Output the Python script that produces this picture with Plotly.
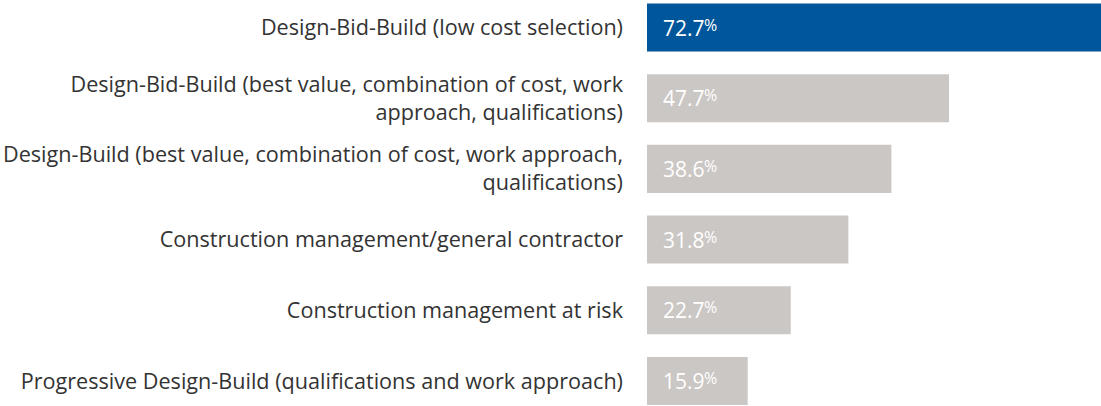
import plotly.graph_objects as go

categories = [
    "Design-Bid-Build (low cost selection)",
    "Design-Bid-Build (best value, combination of cost, work<br>approach, qualifications)",
    "Design-Build (best value, combination of cost, work approach,<br>qualifications)",
    "Construction management/general contractor",
    "Construction management at risk",
    "Progressive Design-Build (qualifications and work approach)",
]
values = [72.7, 47.7, 38.6, 31.8, 22.7, 15.9]
colors = ["#00569A", "#CBC7C4", "#CBC7C4", "#CBC7C4", "#CBC7C4", "#CBC7C4"]

ypos = list(range(len(categories)))
FONT = "Open Sans"
LABEL_SIZE = 21.6

fig = go.Figure(go.Bar(
    x=values, y=ypos, orientation="h", marker=dict(color=colors, line=dict(width=0)),
    width=0.68, hoverinfo="skip",
))

NUM_W = 41  # approximate pixel width of "00.0" at size 21
for i, v in enumerate(values):
    fig.add_annotation(
        x=0, y=i, xref="x", yref="y", xanchor="left", yanchor="middle",
        xshift=14, showarrow=False,
        text=f"{v:.1f}",
        font=dict(family=FONT, size=21, color="#FFFFFF"),
    )
    fig.add_annotation(
        x=0, y=i, xref="x", yref="y", xanchor="left", yanchor="middle",
        xshift=14 + NUM_W, yshift=3, showarrow=False,
        text="%",
        font=dict(family=FONT, size=16, color="#FFFFFF"),
    )

fig.update_layout(
    width=1101, height=406,
    margin=dict(l=647, r=0, t=0, b=0),
    paper_bgcolor="white", plot_bgcolor="white",
    showlegend=False,
    font=dict(family=FONT, size=19, color="#333333"),
    xaxis=dict(range=[0, 71.7], visible=False, fixedrange=True),
    yaxis=dict(
        range=[5.354, -0.389], tickmode="array", tickvals=ypos, ticktext=categories,
        showgrid=False, zeroline=False, showline=False, ticks="",
        ticklabelstandoff=23, fixedrange=True,
        tickfont=dict(family=FONT, size=LABEL_SIZE, color="#333333"),
    ),
)

fig.write_html("out.html", config={"displayModeBar": False},
               post_script="document.body.style.margin='0';")
